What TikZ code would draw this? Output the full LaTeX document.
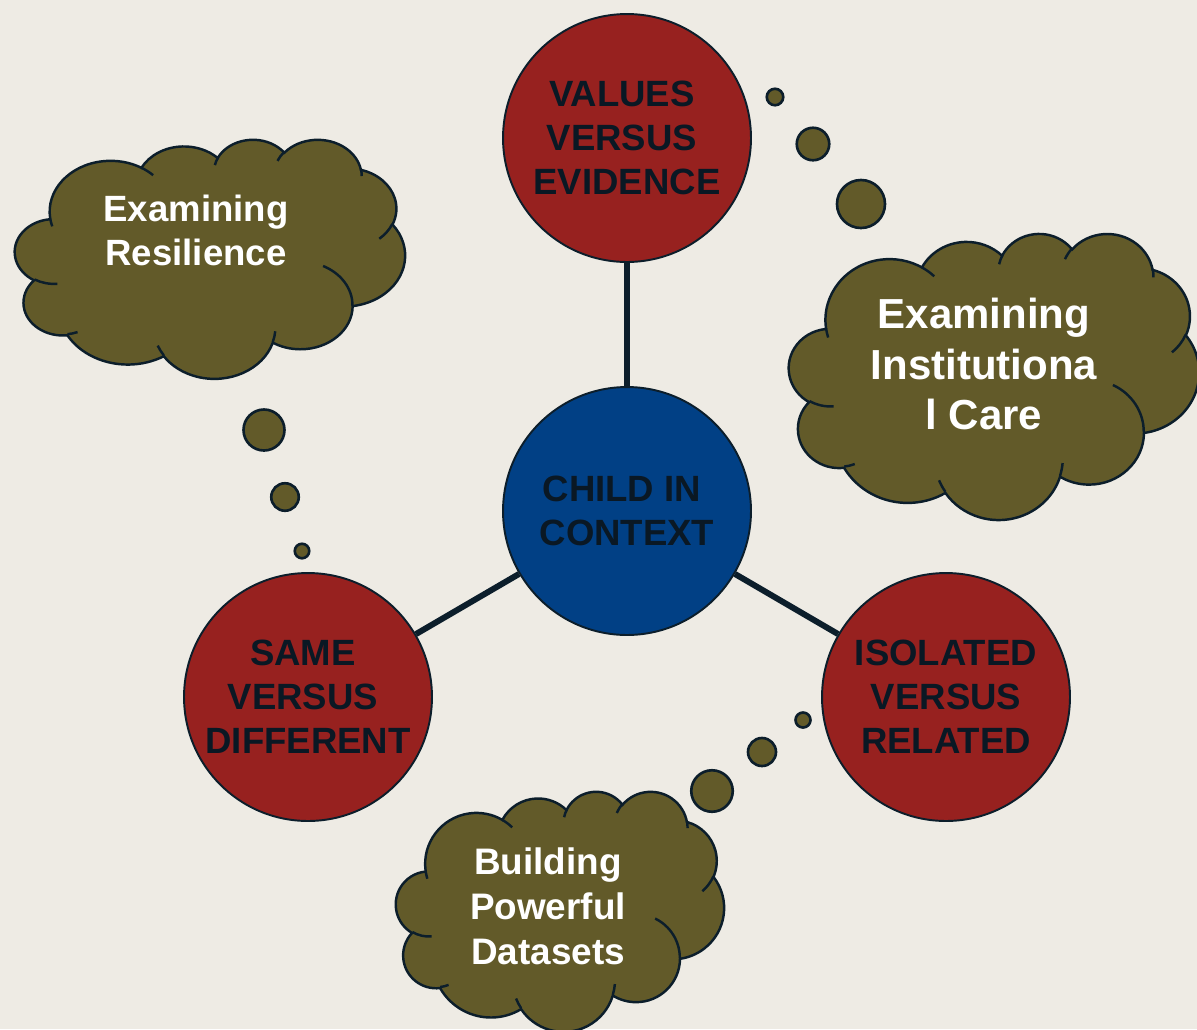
\documentclass[tikz,border=0pt]{standalone}
\usepackage{fontspec}
\setmainfont{Liberation Sans}

\definecolor{paper}{RGB}{238,235,228}
\definecolor{brick}{RGB}{151,33,31}
\definecolor{navy}{RGB}{1,64,133}
\definecolor{moss}{RGB}{98,90,41}
\definecolor{edge}{RGB}{12,30,43}
\definecolor{ink}{RGB}{10,24,36}

% trailing space kept at a line end
\newcommand\tailsp{\kern.28em}

% cloud outline on a 432 x 432 grid, stretched to the box #1,#2 (top left), #3 x #4
\newcommand\thoughtcloud[4]{%
  \begin{scope}[shift={(#1,#2)}, xscale=#3/432, yscale=#4/432]
    \filldraw[cloudline, fill=moss] (39.00,143.70)
      arc[puff={67.53}{91.90}{-190.4875}{123.7805}]
      arc[puff={53.33}{72.67}{-144.1024}{89.9452}]
      arc[puff={43.65}{59.45}{-145.8079}{99.7230}]
      arc[puff={48.57}{65.95}{-130.9861}{117.2417}]
      arc[puff={53.33}{72.73}{-78.7089}{109.0269}]
      arc[puff={67.75}{92.20}{-46.2673}{130.2690}]
      arc[puff={57.85}{78.67}{0.6250}{114.0333}]
      arc[puff={67.52}{92.15}{22.4516}{115.1726}]
      arc[puff={77.20}{105.43}{66.2426}{75.7110}]
      arc[puff={43.60}{59.18}{-274.9421}{146.7356}]
      arc[puff={43.45}{59.45}{-246.8285}{152.5189}]
      -- cycle;
    % inner creases
    \draw[cloudline]
      (46.93,261.77) arc[puff={43.45}{59.45}{86.7420}{26.4295}]
      (69.28,348.99) arc[puff={43.60}{59.18}{73.6105}{11.4475}]
      (164.78,390.90) arc[puff={67.52}{92.15}{137.6242}{14.0811}]
      (288.27,347.51) arc[puff={67.52}{92.15}{6.4533}{15.9984}]
      (341.29,229.54) arc[puff={57.85}{78.67}{-70.2924}{70.9174}]
      (417.98,153.54) arc[puff={53.33}{72.73}{30.3180}{27.7515}]
      (383.24,54.26) arc[puff={48.57}{65.95}{-13.7443}{14.8589}]
      (290.78,39.52) arc[puff={48.57}{65.95}{-149.1815}{18.1954}]
      (221.41,47.20) arc[puff={43.65}{59.45}{-163.4943}{17.6864}]
      (140.00,51.92) arc[puff={67.53}{91.90}{-66.7070}{12.3194}]
      (41.27,157.89) arc[puff={67.53}{91.90}{157.6544}{11.8582}];
  \end{scope}}

\begin{document}
\begin{tikzpicture}[x=0.02cm, y=-0.02cm,
    pole/.style={circle, draw=edge, line width=1.1pt, minimum size=4.96cm, inner sep=0pt,
      align=center, text=ink, font=\fontsize{20.8}{25}\selectfont\bfseries},
    link/.style={draw=edge, line width=3.4pt},
    bubble/.style={circle, draw=edge, fill=moss, line width=1.5pt, inner sep=0pt},
    thought/.style={align=center, text=white, font=\fontsize{20.8}{25}\selectfont\bfseries},
    cloudline/.style={draw=edge, line width=1.4pt},
    puff/.style n args={4}{x radius=#1, y radius=#2,
      start angle={atan2(#1*sin(#3),#2*cos(#3))},
      delta angle={mod(atan2(#1*sin(#3+#4),#2*cos(#3+#4))-atan2(#1*sin(#3),#2*cos(#3))+720,360)}}]
  \fill[paper] (0,0) rectangle (1197,1029);
  \useasboundingbox (0,0) rectangle (1197,1029);

  % clouds
  \thoughtcloud{15}{139}{390}{239}
  \thoughtcloud{789}{233}{410}{286}
  \thoughtcloud{396}{791}{328}{240}
  \node[thought] (resil) at (196,230) {Examining\\Resilience};
  \node[thought, font=\fontsize{23.9}{28.5}\selectfont\bfseries] (inst) at (984,364) {Examining\\Institutiona\\l Care};
  \node[thought, font=\fontsize{21}{25.6}\selectfont\bfseries] (data) at (548,906) {Building\\Powerful\\Datasets};

  % thought bubbles
  \node[bubble, minimum size=0.33cm] (vb1) at (775,97) {};
  \node[bubble, minimum size=0.65cm] (vb2) at (813,144) {};
  \node[bubble, minimum size=0.96cm] (vb3) at (861,204) {};
  \node[bubble, minimum size=0.82cm] (sb1) at (264,430) {};
  \node[bubble, minimum size=0.55cm] (sb2) at (285,497) {};
  \node[bubble, minimum size=0.29cm] (sb3) at (302,551) {};
  \node[bubble, minimum size=0.30cm] (ib1) at (803,720) {};
  \node[bubble, minimum size=0.56cm] (ib2) at (762,752) {};
  \node[bubble, minimum size=0.83cm] (ib3) at (712,791) {};

  % circles
  \node[pole, fill=navy] (ctx) at (627,511) {CHILD IN\tailsp\\CONTEXT};
  \node[pole, fill=brick] (vals) at (627,138) {VALUES\tailsp\\VERSUS\tailsp\\EVIDENCE};
  \node[pole, fill=brick] (same) at (308,697) {SAME\tailsp\\VERSUS\tailsp\\DIFFERENT};
  \node[pole, fill=brick] (isol) at (946,697) {ISOLATED\\VERSUS\\RELATED};

  \draw[link] (ctx) -- (vals);
  \draw[link] (ctx) -- (same);
  \draw[link] (ctx) -- (isol);
\end{tikzpicture}
\end{document}
